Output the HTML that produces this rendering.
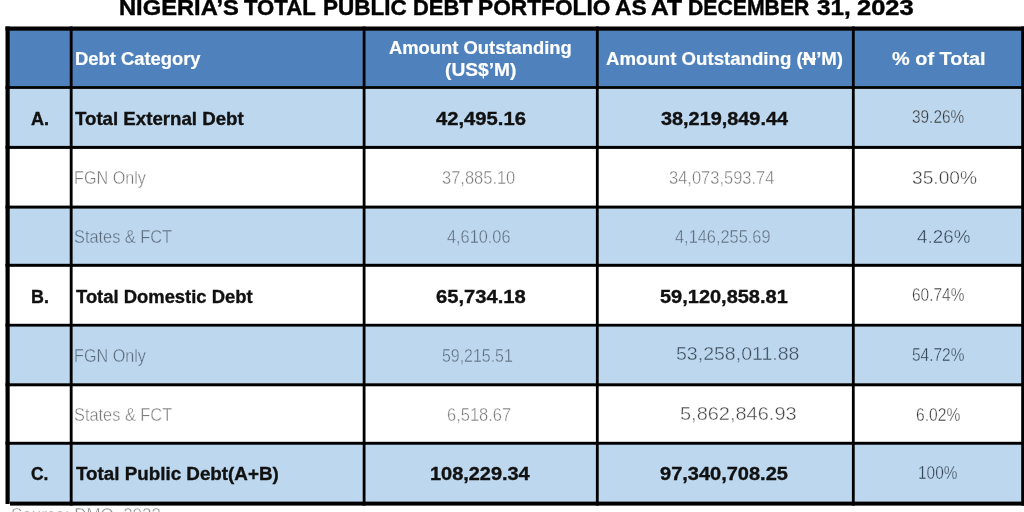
<!DOCTYPE html>
<html><head><meta charset="utf-8"><style>
html,body{margin:0;padding:0;width:1024px;height:512px;overflow:hidden;background:#fff}
svg{position:absolute;left:0;top:0}
.naira{position:relative;display:inline-block}.naira:after{content:"";position:absolute;left:-0.03em;right:0.03em;top:0.47em;height:0.085em;background:currentColor}
.t{filter:blur(0.4px);position:absolute;white-space:nowrap;font-family:"Liberation Sans",sans-serif;line-height:1;transform-origin:0 0}
</style></head><body>
<svg width="1024" height="512" viewBox="0 0 1024 512">
<rect x="8" y="30.25" width="1016" height="56.35" fill="#4f81bd"/>
<rect x="8" y="88.40" width="1016" height="58.00" fill="#bdd7ee"/>
<rect x="8" y="148.40" width="1016" height="57.70" fill="#ffffff"/>
<rect x="8" y="208.10" width="1016" height="56.20" fill="#bdd7ee"/>
<rect x="8" y="266.30" width="1016" height="58.00" fill="#ffffff"/>
<rect x="8" y="326.10" width="1016" height="57.70" fill="#bdd7ee"/>
<rect x="8" y="385.80" width="1016" height="56.50" fill="#ffffff"/>
<rect x="8" y="444.25" width="1016" height="57.85" fill="#bdd7ee"/>
<rect x="5.50" y="26.50" width="1020.50" height="4.25" fill="#000"/>
<rect x="5.50" y="26.50" width="4.20" height="477.50" fill="#000"/>
<rect x="10.00" y="501.60" width="1016.00" height="4.00" fill="#000"/>
<rect x="1021.20" y="26.50" width="4.80" height="479.10" fill="#000"/>
<rect x="5.50" y="86.10" width="1020.50" height="2.80" fill="#000"/>
<rect x="5.50" y="145.90" width="1020.50" height="3.00" fill="#000"/>
<rect x="5.50" y="205.60" width="1020.50" height="3.00" fill="#000"/>
<rect x="5.50" y="263.80" width="1020.50" height="3.00" fill="#000"/>
<rect x="5.50" y="323.80" width="1020.50" height="2.80" fill="#000"/>
<rect x="5.50" y="383.30" width="1020.50" height="3.00" fill="#000"/>
<rect x="5.50" y="441.80" width="1020.50" height="2.95" fill="#000"/>
<rect x="69.75" y="26.50" width="2.85" height="479.10" fill="#000"/>
<rect x="362.70" y="26.50" width="2.80" height="479.10" fill="#000"/>
<rect x="595.90" y="26.50" width="2.80" height="479.10" fill="#000"/>
<rect x="851.90" y="26.50" width="2.80" height="479.10" fill="#000"/>
</svg>
<div class="t" style="left:118.64px;top:-3.86px;font-size:22.899px;font-weight:700;color:#000;transform:scaleX(1.0366);-webkit-text-stroke:0.44px #000">NIGERIA’S</div>
<div class="t" style="left:244.08px;top:-3.86px;font-size:22.899px;font-weight:700;color:#000;transform:scaleX(0.9676);-webkit-text-stroke:0.44px #000">TOTAL</div>
<div class="t" style="left:322.72px;top:-3.86px;font-size:22.899px;font-weight:700;color:#000;transform:scaleX(0.9844);-webkit-text-stroke:0.44px #000">PUBLIC</div>
<div class="t" style="left:412.96px;top:-3.86px;font-size:22.899px;font-weight:700;color:#000;transform:scaleX(0.9594);-webkit-text-stroke:0.44px #000">DEBT</div>
<div class="t" style="left:478.11px;top:-3.86px;font-size:22.899px;font-weight:700;color:#000;transform:scaleX(0.9918);-webkit-text-stroke:0.44px #000">PORTFOLIO</div>
<div class="t" style="left:615.42px;top:-3.86px;font-size:22.899px;font-weight:700;color:#000;transform:scaleX(0.9958);-webkit-text-stroke:0.44px #000">AS</div>
<div class="t" style="left:650.76px;top:-3.86px;font-size:22.899px;font-weight:700;color:#000;transform:scaleX(1.0775);-webkit-text-stroke:0.44px #000">AT</div>
<div class="t" style="left:687.91px;top:-3.86px;font-size:22.899px;font-weight:700;color:#000;transform:scaleX(0.9269);-webkit-text-stroke:0.44px #000">DECEMBER</div>
<div class="t" style="left:816.61px;top:-3.86px;font-size:22.899px;font-weight:700;color:#000;transform:scaleX(1.0615);-webkit-text-stroke:0.44px #000">31,</div>
<div class="t" style="left:857.33px;top:-3.86px;font-size:22.899px;font-weight:700;color:#000;transform:scaleX(1.1140);-webkit-text-stroke:0.44px #000">2023</div>
<div class="t" style="left:75.11px;top:49.78px;font-size:18.261px;font-weight:700;color:#ffffff;transform:scaleX(1.0069);-webkit-text-stroke:0.20px #ffffff">Debt Category</div>
<div class="t" style="left:389.05px;top:38.53px;font-size:18.551px;font-weight:700;color:#ffffff;transform:scaleX(0.9911);-webkit-text-stroke:0.20px #ffffff">Amount Outstanding</div>
<div class="t" style="left:444.94px;top:61.13px;font-size:18.551px;font-weight:700;color:#ffffff;transform:scaleX(1.0349);-webkit-text-stroke:0.20px #ffffff">(US$’M)</div>
<div class="t" style="left:606.34px;top:49.53px;font-size:18.551px;font-weight:700;color:#ffffff;transform:scaleX(1.0048);-webkit-text-stroke:0.20px #ffffff">Amount Outstanding (<span class="naira">N</span>’M)</div>
<div class="t" style="left:891.80px;top:49.53px;font-size:18.551px;font-weight:700;color:#ffffff;transform:scaleX(1.0734);-webkit-text-stroke:0.20px #ffffff">% of Total</div>
<div class="t" style="left:30.71px;top:109.66px;font-size:18.406px;font-weight:700;color:#111111;transform:scaleX(0.9810);-webkit-text-stroke:0.35px #111111">A.</div>
<div class="t" style="left:75.11px;top:109.66px;font-size:18.406px;font-weight:700;color:#111111;transform:scaleX(1.0146);-webkit-text-stroke:0.35px #111111">Total External Debt</div>
<div class="t" style="left:435.85px;top:109.66px;font-size:18.406px;font-weight:700;color:#111111;transform:scaleX(1.0984);-webkit-text-stroke:0.35px #111111">42,495.16</div>
<div class="t" style="left:660.70px;top:109.66px;font-size:18.406px;font-weight:700;color:#111111;transform:scaleX(1.0798);-webkit-text-stroke:0.35px #111111">38,219,849.44</div>
<div class="t" style="left:912.28px;top:107.83px;font-size:18.551px;font-weight:400;color:#363636;transform:scaleX(0.8297);-webkit-text-stroke:0.40px #bdd7ee">39.26%</div>
<div class="t" style="left:74.10px;top:169.23px;font-size:18.551px;font-weight:400;color:#7a7a7a;transform:scaleX(0.8729);-webkit-text-stroke:0.40px #ffffff">FGN Only</div>
<div class="t" style="left:441.74px;top:169.23px;font-size:18.551px;font-weight:400;color:#7a7a7a;transform:scaleX(0.8882);-webkit-text-stroke:0.40px #ffffff">37,885.10</div>
<div class="t" style="left:669.34px;top:169.23px;font-size:18.551px;font-weight:400;color:#7a7a7a;transform:scaleX(0.8891);-webkit-text-stroke:0.40px #ffffff">34,073,593.74</div>
<div class="t" style="left:912.43px;top:167.54px;font-size:19.130px;font-weight:400;color:#404040;transform:scaleX(1.0029);-webkit-text-stroke:0.40px #ffffff">35.00%</div>
<div class="t" style="left:74.18px;top:227.53px;font-size:18.551px;font-weight:400;color:#5c6c7c;transform:scaleX(0.8809);-webkit-text-stroke:0.40px #bdd7ee">States &amp; FCT</div>
<div class="t" style="left:447.17px;top:227.53px;font-size:18.551px;font-weight:400;color:#5c6c7c;transform:scaleX(0.8797);-webkit-text-stroke:0.40px #bdd7ee">4,610.06</div>
<div class="t" style="left:674.67px;top:227.53px;font-size:18.551px;font-weight:400;color:#5c6c7c;transform:scaleX(0.8819);-webkit-text-stroke:0.40px #bdd7ee">4,146,255.69</div>
<div class="t" style="left:917.22px;top:227.90px;font-size:18.116px;font-weight:400;color:#2f3f4f;transform:scaleX(1.0405);-webkit-text-stroke:0.40px #bdd7ee">4.26%</div>
<div class="t" style="left:30.85px;top:287.60px;font-size:18.116px;font-weight:700;color:#111111;transform:scaleX(0.9885);-webkit-text-stroke:0.34px #111111">B.</div>
<div class="t" style="left:76.07px;top:287.60px;font-size:18.116px;font-weight:700;color:#111111;transform:scaleX(1.0166);-webkit-text-stroke:0.34px #111111">Total Domestic Debt</div>
<div class="t" style="left:435.79px;top:287.60px;font-size:18.116px;font-weight:700;color:#111111;transform:scaleX(1.1141);-webkit-text-stroke:0.34px #111111">65,734.18</div>
<div class="t" style="left:660.40px;top:287.60px;font-size:18.116px;font-weight:700;color:#111111;transform:scaleX(1.1031);-webkit-text-stroke:0.34px #111111">59,120,858.81</div>
<div class="t" style="left:911.83px;top:286.05px;font-size:18.116px;font-weight:400;color:#363636;transform:scaleX(0.8538);-webkit-text-stroke:0.40px #ffffff">60.74%</div>
<div class="t" style="left:74.10px;top:347.18px;font-size:18.261px;font-weight:400;color:#5c6c7c;transform:scaleX(0.8867);-webkit-text-stroke:0.40px #bdd7ee">FGN Only</div>
<div class="t" style="left:442.46px;top:347.18px;font-size:18.261px;font-weight:400;color:#5c6c7c;transform:scaleX(0.8717);-webkit-text-stroke:0.40px #bdd7ee">59,215.51</div>
<div class="t" style="left:675.62px;top:346.47px;font-size:17.681px;font-weight:400;color:#3a4a5a;transform:scaleX(1.1049);-webkit-text-stroke:0.40px #bdd7ee">53,258,011.88</div>
<div class="t" style="left:912.08px;top:346.06px;font-size:18.406px;font-weight:400;color:#2f3f4f;transform:scaleX(0.8395);-webkit-text-stroke:0.40px #bdd7ee">54.72%</div>
<div class="t" style="left:74.18px;top:405.60px;font-size:18.116px;font-weight:400;color:#7a7a7a;transform:scaleX(0.9029);-webkit-text-stroke:0.40px #ffffff">States &amp; FCT</div>
<div class="t" style="left:446.68px;top:405.60px;font-size:18.116px;font-weight:400;color:#7a7a7a;transform:scaleX(0.9103);-webkit-text-stroke:0.40px #ffffff">6,518.67</div>
<div class="t" style="left:679.50px;top:406.15px;font-size:17.826px;font-weight:400;color:#444444;transform:scaleX(1.1210);-webkit-text-stroke:0.40px #ffffff">5,862,846.93</div>
<div class="t" style="left:915.82px;top:406.06px;font-size:18.406px;font-weight:400;color:#363636;transform:scaleX(0.8495);-webkit-text-stroke:0.40px #ffffff">6.02%</div>
<div class="t" style="left:31.30px;top:465.38px;font-size:18.261px;font-weight:700;color:#111111;transform:scaleX(0.9537);-webkit-text-stroke:0.35px #111111">C.</div>
<div class="t" style="left:76.06px;top:465.38px;font-size:18.261px;font-weight:700;color:#111111;transform:scaleX(1.0297);-webkit-text-stroke:0.35px #111111">Total Public Debt(A+B)</div>
<div class="t" style="left:430.05px;top:465.38px;font-size:18.261px;font-weight:700;color:#111111;transform:scaleX(1.0914);-webkit-text-stroke:0.35px #111111">108,229.34</div>
<div class="t" style="left:660.20px;top:465.38px;font-size:18.261px;font-weight:700;color:#111111;transform:scaleX(1.0961);-webkit-text-stroke:0.35px #111111">97,340,708.25</div>
<div class="t" style="left:918.27px;top:464.06px;font-size:18.406px;font-weight:400;color:#2f3f4f;transform:scaleX(0.8372);-webkit-text-stroke:0.40px #bdd7ee">100%</div>
<div class="t" style="left:10.65px;top:507.27px;font-size:17.681px;font-weight:400;color:#8c8c8c;transform:scaleX(0.9597);-webkit-text-stroke:0.40px #ffffff">Source: DMO, 2023</div>
</body></html>
